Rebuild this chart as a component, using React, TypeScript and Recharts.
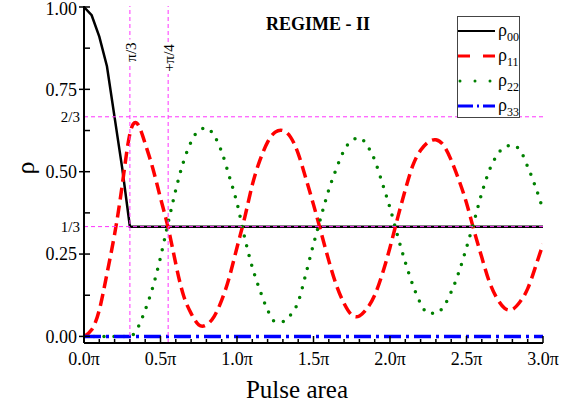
import { Line, LineChart, ReferenceLine, XAxis, YAxis } from 'recharts';

const SERIF = '"Liberation Serif", "Times New Roman", serif';
const MAGENTA = '#ff33ff';

// pulse area in units of pi
const pulseArea = [
  0, 0.05, 0.1, 0.15, 0.2, 0.25, 0.3, 0.35, 0.4, 0.45, 0.5, 0.55, 0.6, 0.65, 0.7, 0.75, 0.8, 0.85, 0.9, 0.95,
  1, 1.05, 1.1, 1.15, 1.2, 1.25, 1.3, 1.35, 1.4, 1.45, 1.5, 1.55, 1.6, 1.65, 1.7, 1.75, 1.8, 1.85, 1.9, 1.95,
  2, 2.05, 2.1, 2.15, 2.2, 2.25, 2.3, 2.35, 2.4, 2.45, 2.5, 2.55, 2.6, 2.65, 2.7, 2.75, 2.8, 2.85, 2.9, 2.95,
  3,
];
const rho00 = [
  1, 0.975, 0.91, 0.82, 0.665, 0.51, 0.333, 0.333, 0.333, 0.333, 0.333, 0.333, 0.333, 0.333, 0.333, 0.333,
  0.333, 0.333, 0.333, 0.333, 0.333, 0.333, 0.333, 0.333, 0.333, 0.333, 0.333, 0.333, 0.333, 0.333, 0.333,
  0.333, 0.333, 0.333, 0.333, 0.333, 0.333, 0.333, 0.333, 0.333, 0.333, 0.333, 0.333, 0.333, 0.333, 0.333,
  0.333, 0.333, 0.333, 0.333, 0.333, 0.333, 0.333, 0.333, 0.333, 0.333, 0.333, 0.333, 0.333, 0.333, 0.333,
];
const rho11 = [
  0, 0.02, 0.08, 0.19, 0.31, 0.46, 0.615, 0.645, 0.585, 0.51, 0.42, 0.33, 0.22, 0.125, 0.07, 0.035, 0.035,
  0.06, 0.11, 0.18, 0.27, 0.36, 0.46, 0.535, 0.59, 0.62, 0.625, 0.605, 0.555, 0.48, 0.4, 0.315, 0.23, 0.155,
  0.1, 0.065, 0.062, 0.085, 0.125, 0.19, 0.27, 0.36, 0.445, 0.52, 0.565, 0.59, 0.597, 0.58, 0.535, 0.475,
  0.405, 0.32, 0.24, 0.165, 0.115, 0.085, 0.082, 0.105, 0.145, 0.21, 0.28,
];
const rho22 = [
  0, 0, 0, 0, 0, 0, 0, 0.025, 0.08, 0.15, 0.24, 0.345, 0.445, 0.53, 0.59, 0.625, 0.633, 0.61, 0.56, 0.485,
  0.405, 0.3, 0.21, 0.14, 0.08, 0.045, 0.045, 0.065, 0.105, 0.19, 0.28, 0.365, 0.445, 0.51, 0.565, 0.595,
  0.603, 0.58, 0.535, 0.465, 0.39, 0.305, 0.225, 0.155, 0.1, 0.07, 0.07, 0.09, 0.135, 0.195, 0.27, 0.35,
  0.435, 0.505, 0.55, 0.575, 0.58, 0.565, 0.515, 0.455, 0.385,
];
const rho33 = [
  0, 0, 0, 0, 0, 0, 0, 0, 0, 0, 0, 0, 0, 0, 0, 0, 0, 0, 0, 0, 0, 0, 0, 0, 0, 0, 0, 0, 0, 0, 0, 0, 0, 0, 0,
  0, 0, 0, 0, 0, 0, 0, 0, 0, 0, 0, 0, 0, 0, 0, 0, 0, 0, 0, 0, 0, 0, 0, 0, 0, 0,
];

const xTicks = [
  0, 0.1, 0.2, 0.3, 0.4, 0.5, 0.6, 0.7, 0.8, 0.9, 1, 1.1, 1.2, 1.3, 1.4, 1.5, 1.6, 1.7, 1.8, 1.9, 2, 2.1, 2.2,
  2.3, 2.4, 2.5, 2.6, 2.7, 2.8, 2.9, 3,
];
const xMajorTicks = [0, 0.5, 1, 1.5, 2, 2.5, 3];
const xTickLabels = ['0.0π', '0.5π', '1.0π', '1.5π', '2.0π', '2.5π', '3.0π'];
const yTicks = [0, 0.125, 0.25, 1 / 3, 0.375, 0.5, 0.625, 2 / 3, 0.75, 0.875, 1];
const yMajorTicks = [0, 0.25, 0.5, 0.75, 1];
const yTickLabels = ['0.00', '0.25', '0.50', '0.75', '1.00'];
const yFracTicks = [1 / 3, 2 / 3];
const yFracLabels = ['1/3', '2/3'];
const markerAreas = [0.3, 0.55];
const markerLabels = ['π/3', '+π/4'];

const data = pulseArea.map((x, i) => ({
  x,
  rho00: rho00[i],
  rho11: rho11[i],
  rho22: rho22[i],
  rho33: rho33[i],
}));

const series = [
  { key: 'rho00', sub: '00', color: '#000000', legendDash: undefined, width: 2.5 },
  { key: 'rho11', sub: '11', color: '#ff0000', legendDash: '12 13', width: 3.5 },
  { key: 'rho22', sub: '22', color: '#008000', legendDash: '0 15', width: 3.5 },
  { key: 'rho33', sub: '33', color: '#0000ff', legendDash: '15 4 2 4', width: 3.5 },
];

const indexOf = (list: number[], v: number) => list.findIndex((m) => Math.abs(m - v) < 1e-6);

function BottomTick({ x, y, payload }: any) {
  const i = indexOf(xMajorTicks, payload.value);
  return (
    <g>
      <line x1={x} x2={x} y1={y} y2={y - (i >= 0 ? 7 : 4)} stroke="#000" strokeWidth={1.5} />
      {i >= 0 && (
        <text x={x} y={y + 22} textAnchor="middle" fontSize={18} fontFamily={SERIF} fill="#000">
          {xTickLabels[i]}
        </text>
      )}
    </g>
  );
}

function TopTick({ x, y, payload }: any) {
  const major = indexOf(xMajorTicks, payload.value) >= 0;
  return <line x1={x} x2={x} y1={y} y2={y + (major ? 7 : 4)} stroke="#000" strokeWidth={1.5} />;
}

function LeftTick({ x, y, payload }: any) {
  const f = indexOf(yFracTicks, payload.value);
  if (f >= 0) {
    return (
      <text x={x - 4} y={y} dy="0.35em" textAnchor="end" fontSize={15} fontFamily={SERIF} fill="#000">
        {yFracLabels[f]}
      </text>
    );
  }
  const i = indexOf(yMajorTicks, payload.value);
  // keep the top label inside the picture
  const ty = i === yMajorTicks.length - 1 ? y + 2 : y;
  return (
    <g>
      <line x1={x - (i >= 0 ? 5 : 0)} x2={x + 6} y1={y} y2={y} stroke="#000" strokeWidth={1.5} />
      {i >= 0 && (
        <text x={x - 7} y={ty} dy="0.35em" textAnchor="end" fontSize={18} fontFamily={SERIF} fill="#000">
          {yTickLabels[i]}
        </text>
      )}
    </g>
  );
}

function RightTick({ x, y, payload }: any) {
  if (indexOf(yFracTicks, payload.value) >= 0) return <g />;
  return <line x1={x} x2={x - 6} y1={y} y2={y} stroke="#000" strokeWidth={1.5} />;
}

function MarkerLabel({ viewBox, text, cy }: any) {
  const w = text.length * 7 + 4;
  return (
    <g transform={`translate(${viewBox.x + 1},${cy}) rotate(-90)`}>
      <rect x={-w / 2} y={-7} width={w} height={14} fill="#fff" />
      <text x={0} y={0} dy="0.35em" textAnchor="middle" fontSize={15} fontFamily={SERIF} fill="#000">
        {text}
      </text>
    </g>
  );
}

function LegendBox() {
  return (
    <div
      style={{
        position: 'absolute',
        left: 457,
        top: 16,
        width: 63,
        height: 102,
        border: '1px solid #444',
        background: '#fff',
        boxSizing: 'border-box',
        paddingTop: 1,
        fontFamily: SERIF,
      }}
    >
      {series.map((s) => (
        <div key={s.key} style={{ height: 25, display: 'flex', alignItems: 'center' }}>
          <svg width={37} height={10} style={{ display: 'block' }}>
            <line
              x1={s.key === 'rho22' ? 2 : 0}
              x2={37}
              y1={5}
              y2={5}
              stroke={s.color}
              strokeWidth={s.width - 0.5}
              strokeDasharray={s.legendDash}
              strokeLinecap={s.key === 'rho22' ? 'round' : 'butt'}
            />
          </svg>
          <span style={{ fontSize: 18, marginLeft: 3, lineHeight: '18px', color: '#000' }}>
            ρ<span style={{ fontSize: 12, position: 'relative', top: 5 }}>{s.sub}</span>
          </span>
        </div>
      ))}
    </div>
  );
}

export default function App() {
  return (
    <div style={{ position: 'absolute', left: 0, top: 0, width: 561, height: 413, background: '#fff' }}>
      <LineChart width={561} height={413} data={data} margin={{ top: 6, right: 18, left: 0, bottom: 0 }}>
        <XAxis
          dataKey="x"
          type="number"
          domain={[0, 3]}
          allowDataOverflow
          ticks={xTicks}
          interval={0}
          tickSize={0}
          tickMargin={0}
          height={70}
          axisLine={{ stroke: '#000', strokeWidth: 2 }}
          tick={(p: any) => <BottomTick {...p} />}
        />
        <XAxis
          xAxisId="top"
          orientation="top"
          dataKey="x"
          type="number"
          domain={[0, 3]}
          allowDataOverflow
          ticks={xTicks}
          interval={0}
          tickSize={0}
          tickMargin={0}
          height={0}
          axisLine={{ stroke: '#000', strokeWidth: 2 }}
          tick={(p: any) => <TopTick {...p} />}
        />
        <YAxis
          type="number"
          domain={[-0.02, 1.003]}
          allowDataOverflow
          ticks={yTicks}
          interval={0}
          tickSize={0}
          tickMargin={0}
          width={84}
          axisLine={{ stroke: '#000', strokeWidth: 2 }}
          tick={(p: any) => <LeftTick {...p} />}
        />
        <YAxis
          yAxisId="right"
          orientation="right"
          type="number"
          domain={[-0.02, 1.003]}
          allowDataOverflow
          ticks={yTicks}
          interval={0}
          tickSize={0}
          tickMargin={0}
          width={0}
          axisLine={{ stroke: '#000', strokeWidth: 2 }}
          tick={(p: any) => <RightTick {...p} />}
        />
        <Line dataKey="rho00" type="linear" stroke="#000000" strokeWidth={2.5} dot={false} isAnimationActive={false} />
        <Line
          dataKey="rho11"
          type="natural"
          stroke="#ff0000"
          strokeWidth={3.5}
          strokeDasharray="12 6"
          dot={false}
          isAnimationActive={false}
        />
        <Line
          dataKey="rho22"
          type="monotone"
          stroke="#008000"
          strokeWidth={3.5}
          strokeDasharray="0 10"
          strokeLinecap="round"
          dot={false}
          isAnimationActive={false}
        />
        <Line
          dataKey="rho33"
          type="linear"
          stroke="#0000ff"
          strokeWidth={3.5}
          strokeDasharray="17 5 3 5"
          dot={false}
          isAnimationActive={false}
        />
        {yFracTicks.map((v) => (
          <ReferenceLine key={`h-${v}`} y={v} stroke={MAGENTA} strokeWidth={1} strokeDasharray="4 3" />
        ))}
        {markerAreas.map((v, i) => (
          <ReferenceLine
            key={`v-${v}`}
            x={v}
            stroke={MAGENTA}
            strokeWidth={1}
            strokeDasharray="4 3"
            label={(p: any) => <MarkerLabel viewBox={p.viewBox} text={markerLabels[i]} cy={i === 0 ? 52 : 58} />}
          />
        ))}
      </LineChart>
      <svg
        width={561}
        height={413}
        style={{ position: 'absolute', left: 0, top: 0, pointerEvents: 'none' }}
      >
        <text x={318} y={30} textAnchor="middle" fontSize={18} fontWeight="bold" fontFamily={SERIF} fill="#000">
          REGIME - II
        </text>
        <text
          transform="translate(34,168) rotate(-90)"
          textAnchor="middle"
          fontSize={26}
          fontFamily={SERIF}
          fill="#000"
        >
          ρ
        </text>
        <text x={297} y={398} textAnchor="middle" fontSize={25} fontFamily={SERIF} fill="#000">
          Pulse area
        </text>
      </svg>
      <LegendBox />
    </div>
  );
}
